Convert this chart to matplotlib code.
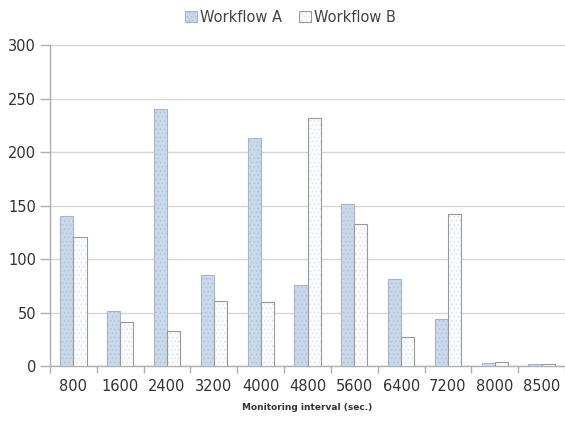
import matplotlib
matplotlib.use("Agg")
import matplotlib.pyplot as plt
import numpy as np

categories = ["800", "1600", "2400", "3200", "4000", "4800", "5600", "6400", "7200", "8000", "8500"]
workflow_a = [140, 51, 240, 85, 213, 76, 151, 81, 44, 3, 2]
workflow_b = [121, 41, 33, 61, 60, 232, 133, 27, 142, 4, 2]

plt.rcParams['hatch.linewidth'] = 0.6
fig = plt.figure(figsize=(5.65, 4.21), dpi=100)
ax = fig.add_axes([0.0885, 0.1306, 0.9115, 0.7624])

x = np.arange(len(categories))
w = 0.28
ba = ax.bar(x - w/2, workflow_a, width=w, color='#c9d8ea', edgecolor='#a6b6ca',
            linewidth=0.8, hatch='....', zorder=3, label='Workflow A')
bb = ax.bar(x + w/2, workflow_b, width=w, color='#fafbfd', edgecolor='#9a9a9a',
            linewidth=0.8, zorder=3, label='Workflow B')
for p in ba:
    p._hatch_color = matplotlib.colors.to_rgba('#b3c4da')
for p in bb:
    p.set_hatch('....')
    p._hatch_color = matplotlib.colors.to_rgba('#e2e8f0')

ax.set_xlim(-0.5, len(categories) - 0.5)
ax.set_ylim(0, 300)
ax.set_yticks(range(0, 301, 50))
ax.yaxis.grid(True, color='#d6d6d6', linewidth=1.0, zorder=0)
ax.set_axisbelow(True)

ax.set_xticks(x)
ax.set_xticklabels(categories)
ax.set_xticks(np.arange(-0.5, len(categories), 1.0), minor=True)
ax.tick_params(axis='x', which='major', length=0, pad=9, labelsize=10.5, labelcolor='#333333')
ax.tick_params(axis='x', which='minor', length=5, color='#b0b0b0', width=1)
ax.tick_params(axis='y', length=7, color='#b0b0b0', width=1, pad=3, labelsize=10.5, labelcolor='#333333')

for s in ['top', 'right']:
    ax.spines[s].set_visible(False)
ax.spines['left'].set_color('#b0b0b0')
ax.spines['bottom'].set_color('#b0b0b0')
ax.spines['left'].set_linewidth(1.0)
ax.spines['bottom'].set_linewidth(1.0)

ax.set_xlabel('Monitoring interval (sec.)', fontsize=6.5, fontweight='bold', color='#333333', labelpad=7)

fig.legend(handles=[ba, bb], labels=['Workflow A', 'Workflow B'], loc='upper center',
           bbox_to_anchor=(0.514, 1.008), ncol=2, frameon=False, fontsize=10.5,
           handlelength=0.8, handleheight=0.8, handletextpad=0.2, columnspacing=1.2,
           labelcolor='#444444')

fig.savefig('out.png', dpi=100, facecolor='white')
